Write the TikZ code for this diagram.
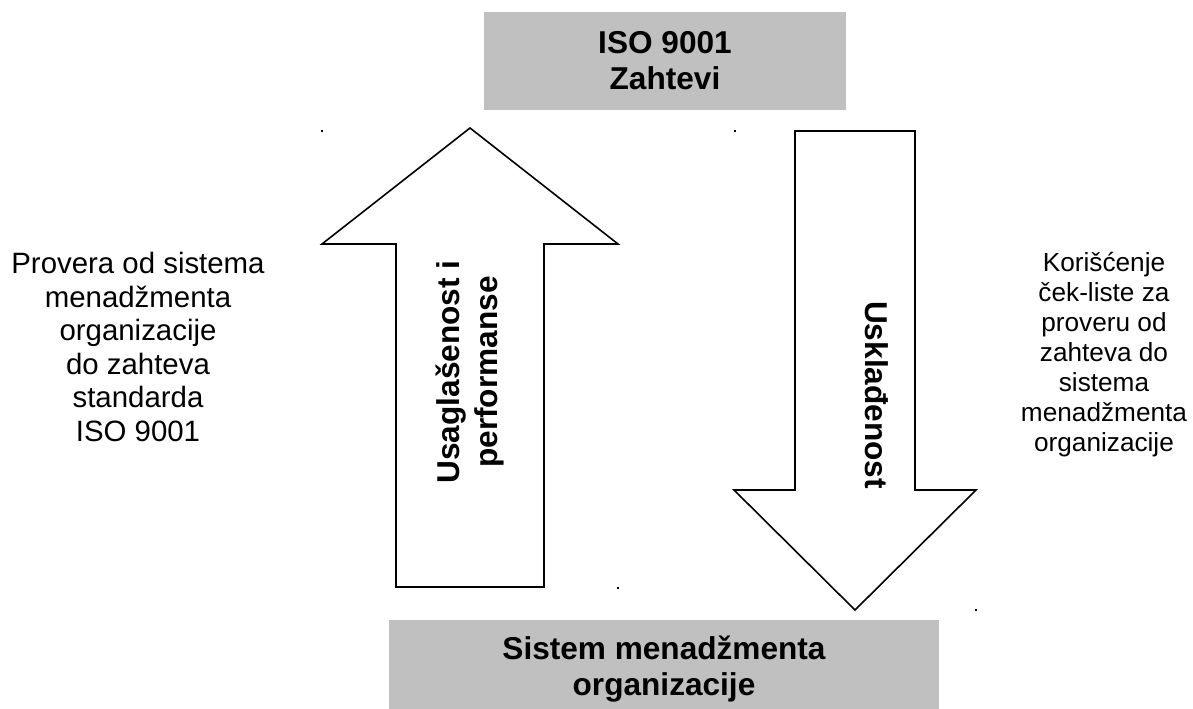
\documentclass[tikz,border=0pt]{standalone}
\usepackage{fontspec}
\setmainfont{Liberation Sans}
\usetikzlibrary{calc,positioning}
\definecolor{boxgray}{RGB}{192,192,192}
\tikzset{graybox/.style={fill=boxgray,draw=none,font=\bfseries\fontsize{31.6bp}{36bp}\selectfont,align=center,inner sep=0pt},
blockarrow/.style={draw=black,fill=white,line width=1.6bp,line join=miter}}

\begin{document}
\begin{tikzpicture}[x=1bp,y=-1bp]

\tikzset{sidetext/.style={align=center,inner sep=0pt},
arrowtext/.style={font=\bfseries\fontsize{31.6bp}{38bp}\selectfont,align=center,inner sep=0pt},
dotmark/.style={fill=black,inner sep=0pt,minimum size=2.2bp,shape=rectangle}}

\useasboundingbox (0,0) rectangle (1193,709);

% Boxes
\node[graybox,minimum width=362bp,minimum height=98bp] (req) at (665,61) {ISO 9001\\Zahtevi};
\node[graybox,minimum width=550bp,minimum height=98bp] (sys) at (664,669) {Sistem menadžmenta\\organizacije}; % runs past the page edge

% Block arrows
\coordinate (upTip) at (470,128);
\coordinate (downTip) at (855,610);
\draw[blockarrow] (upTip) -- ++(148,116) -- ++(-74,0) -- ++(0,343) -- ++(-148,0) -- ++(0,-343) -- ++(-74,0) -- cycle;
\draw[blockarrow] (downTip) -- ++(121,-120) -- ++(-61,0) -- ++(0,-359) -- ++(-120,0) -- ++(0,359) -- ++(-61,0) -- cycle;

% Arrow labels
\node[arrowtext,rotate=90] (upLabel) at (470,372) {Usaglašenost i\\performanse};
\node[arrowtext,rotate=-90] (downLabel) at (877,395) {Usklađenost};

% Side texts
\node[sidetext,font=\fontsize{29.4bp}{33.5bp}\selectfont] (leftText) at (138,347) {Provera od sistema\\menadžmenta\\organizacije\\do zahteva\\standarda\\ISO 9001};
\node[sidetext,font=\fontsize{26.2bp}{30bp}\selectfont] (rightText) at (1104,355) {Korišćenje\\ček-liste za\\proveru od\\zahteva do\\sistema\\menadžmenta\\organizacije};

% Dots
\foreach \x/\y [count=\i] in {322/131,735/131,618/588,976/610} \node[dotmark] (dot\i) at (\x,\y) {};

\end{tikzpicture}
\end{document}
